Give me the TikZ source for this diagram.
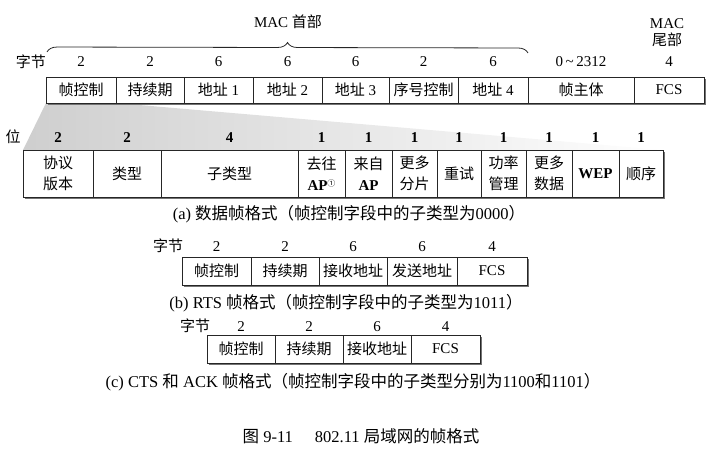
\documentclass[tikz,border=0pt]{standalone}
\usepackage{fontspec}
\setmainfont{Liberation Serif}
\newfontfamily\cjk{Noto Sans CJK SC}
\newcommand\zh[1]{{\cjk #1}}
\usetikzlibrary{decorations.pathreplacing,backgrounds}
\begin{document}
\begin{tikzpicture}[x=1pt,y=-1pt,
  every node/.style={font=\fontsize{15}{21}\selectfont, inner sep=0pt, outer sep=0pt},
  fld/.style={draw=black!85, line width=0.9pt, align=center},
  num/.style={anchor=center},
  bnum/.style={anchor=center, font=\fontsize{15}{18}\selectfont\bfseries},
  captxt/.style={anchor=center, font=\fontsize{16.5}{20}\selectfont},
  shadowline/.style={draw=black!55, line width=1.3pt},
  r1/.style={fld, minimum height=26},
  r2/.style={fld, minimum height=47},
  r3/.style={fld, minimum height=28}]
\useasboundingbox (0,0) rectangle (716,451);

% ---------- Row 1: data frame (bytes) ----------
\node[r1, minimum width=70]  (f1) at (81,90)    {\zh{帧控制}};
\node[r1, minimum width=68]  (f2) at (150,90)   {\zh{持续期}};
\node[r1, minimum width=69]  (f3) at (218.5,90) {\zh{地址} 1};
\node[r1, minimum width=69]  (f4) at (287.5,90) {\zh{地址} 2};
\node[r1, minimum width=67]  (f5) at (355.5,90) {\zh{地址} 3};
\node[r1, minimum width=69]  (f6) at (423.5,90) {\zh{序号控制}};
\node[r1, minimum width=70]  (f7) at (493,90)   {\zh{地址} 4};
\node[r1, minimum width=106] (f8) at (581,90)   {\zh{帧主体}};
\node[r1, minimum width=70]  (f9) at (669,90)   {FCS};
\draw[shadowline] ([shift={(1.5,1.2)}]f1.south west) -- ([shift={(1.2,1.2)}]f9.south east) -- ([shift={(1.2,1.5)}]f9.north east);

\node[num] (zj1) at (31,62) {\zh{字节}};
\node[num] (n1) at (f1.north |- 0,62) {2};
\node[num] (n2) at (f2.north |- 0,62) {2};
\node[num] (n3) at (f3.north |- 0,62) {6};
\node[num] (n4) at (f4.north |- 0,62) {6};
\node[num] (n5) at (f5.north |- 0,62) {6};
\node[num] (n6) at (f6.north |- 0,62) {2};
\node[num] (n7) at (f7.north |- 0,62) {6};
\node[num] (n8) at (f8.north |- 0,62) {0\,\textasciitilde\,2312};
\node[num] (n9) at (f9.north |- 0,62) {4};

\coordinate (bl) at (47,52);
\coordinate (br) at (528,53);
\draw[black!85, line width=0.8pt, decorate, decoration={brace, amplitude=10pt}] (bl) -- (br);
\node[num] (machead) at (288,22) {MAC \zh{首部}};
\node[num, align=center, font=\fontsize{15}{17}\selectfont] (mactail) at (667,33) {MAC\\\zh{尾部}};

% ---------- Row 2: frame control (bits) ----------
\node[r2, minimum width=70]  (b1)  at (58,173.5)    {\zh{协议}\\\zh{版本}};
\node[r2, minimum width=68]  (b2)  at (127,173.5)   {\zh{类型}};
\node[r2, minimum width=137] (b3)  at (229.5,173.5) {\zh{子类型}};
\node[r2, minimum width=47]  (b4)  at (321.5,173.5) {\zh{去往}\\\textbf{AP}\raisebox{0.55ex}{\cjk\fontsize{8}{8}\selectfont ①}};
\node[r2, minimum width=47]  (b5)  at (368.5,173.5) {\zh{来自}\\\textbf{AP}};
\node[r2, minimum width=45]  (b6)  at (414.5,173.5) {\zh{更多}\\\zh{分片}};
\node[r2, minimum width=44]  (b7)  at (459,173.5)   {\zh{重试}};
\node[r2, minimum width=45]  (b8)  at (503.5,173.5) {\zh{功率}\\\zh{管理}};
\node[r2, minimum width=46]  (b9)  at (549,173.5)   {\zh{更多}\\\zh{数据}};
\node[r2, minimum width=47]  (b10) at (595.5,173.5) {\textbf{WEP}};
\node[r2, minimum width=44]  (b11) at (641,173.5)   {\zh{顺序}};
\draw[shadowline] ([shift={(1.5,1.2)}]b1.south west) -- ([shift={(1.2,1.2)}]b11.south east) -- ([shift={(1.2,1.5)}]b11.north east);

\begin{scope}[on background layer]
\shade[left color=gray!38, right color=white]
  (f1.south west) -- (f1.south east) -- (b11.north east) -- (b1.north west) -- cycle;
\end{scope}

\node[num] (wei) at (13,137) {\zh{位}};
\node[bnum] (m1)  at (b1.north |- 0,138) {2};
\node[bnum] (m2)  at (b2.north |- 0,138) {2};
\node[bnum] (m3)  at (b3.north |- 0,138) {4};
\node[bnum] (m4)  at (b4.north |- 0,138) {1};
\node[bnum] (m5)  at (b5.north |- 0,138) {1};
\node[bnum] (m6)  at (b6.north |- 0,138) {1};
\node[bnum] (m7)  at (b7.north |- 0,138) {1};
\node[bnum] (m8)  at (b8.north |- 0,138) {1};
\node[bnum] (m9)  at (b9.north |- 0,138) {1};
\node[bnum] (m10) at (b10.north |- 0,138) {1};
\node[bnum] (m11) at (b11.north |- 0,138) {1};

\node[captxt] (capa) at (349,214) {(a) \zh{数据帧格式（帧控制字段中的子类型为}0000\zh{）}};

% ---------- Row 3: RTS ----------
\node[r3, minimum width=69] (r1) at (216.5,271) {\zh{帧控制}};
\node[r3, minimum width=68] (r2) at (285,271)   {\zh{持续期}};
\node[r3, minimum width=68] (r3) at (353,271)   {\zh{接收地址}};
\node[r3, minimum width=70] (r4) at (422,271)   {\zh{发送地址}};
\node[r3, minimum width=70] (r5) at (492,271)   {FCS};
\draw[shadowline] ([shift={(1.5,1.2)}]r1.south west) -- ([shift={(1.2,1.2)}]r5.south east) -- ([shift={(1.2,1.5)}]r5.north east);
\node[num] (zj2) at (168,246) {\zh{字节}};
\node[num] (p1) at (r1.north |- 0,247) {2};
\node[num] (p2) at (r2.north |- 0,247) {2};
\node[num] (p3) at (r3.north |- 0,247) {6};
\node[num] (p4) at (r4.north |- 0,247) {6};
\node[num] (p5) at (r5.north |- 0,247) {4};
\node[captxt] (capb) at (346,303) {(b) RTS \zh{帧格式（帧控制字段中的子类型为}1011\zh{）}};

% ---------- Row 4: CTS / ACK ----------
\node[r3, minimum width=68] (c1) at (241,349)   {\zh{帧控制}};
\node[r3, minimum width=68] (c2) at (309,349)   {\zh{持续期}};
\node[r3, minimum width=68] (c3) at (377,349)   {\zh{接收地址}};
\node[r3, minimum width=69] (c4) at (445.5,349) {FCS};
\draw[shadowline] ([shift={(1.5,1.2)}]c1.south west) -- ([shift={(1.2,1.2)}]c4.south east) -- ([shift={(1.2,1.5)}]c4.north east);
\node[num] (zj3) at (195,326) {\zh{字节}};
\node[num] (q1) at (c1.north |- 0,327) {2};
\node[num] (q2) at (c2.north |- 0,327) {2};
\node[num] (q3) at (c3.north |- 0,327) {6};
\node[num] (q4) at (c4.north |- 0,327) {4};
\node[captxt] (capc) at (353,382) {(c) CTS \zh{和} ACK \zh{帧格式（帧控制字段中的子类型分别为}1100\zh{和}1101\zh{）}};

\node[captxt] (title) at (361,436) {\zh{图} 9-11\hspace{22pt}802.11 \zh{局域网的帧格式}};
\end{tikzpicture}
\end{document}
